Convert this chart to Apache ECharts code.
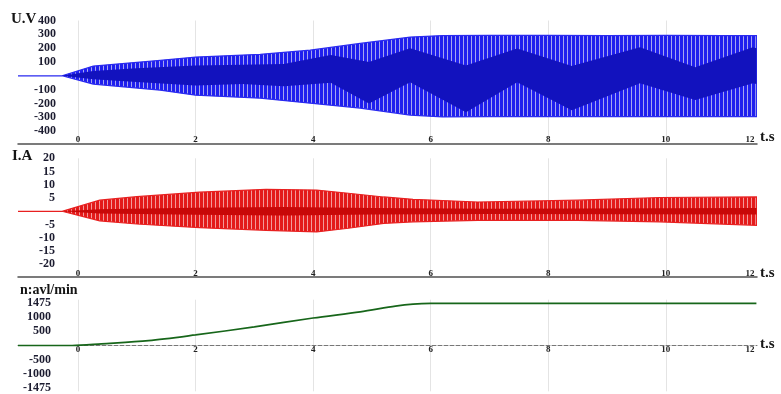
<!DOCTYPE html>
<html><head><meta charset="utf-8">
<script src="https://cdn.jsdelivr.net/npm/echarts@6/dist/echarts.min.js"></script>
<style>html,body{margin:0;padding:0;background:#fff}#c{width:781px;height:394px}</style>
</head><body><div id="c"></div>
<script>
// ---- tick labels ----
const xTickPos = [0, 2, 4, 6, 8, 10, 11.43];
const xTickLabels = ['0', '2', '4', '6', '8', '10', '12'];
const uTicks = [400, 300, 200, 100, -100, -200, -300, -400];
const iTicks = [20, 15, 10, 5, -5, -10, -15, -20];
const nTicks = [1475, 1000, 500, -500, -1000, -1475];

// ---- voltage U (V): outer envelope ----
const tEnvU = [-1.02, -0.27, 0.26, 1.4, 2.0, 3.1, 3.95, 4.8, 5.65, 6.2, 7.0, 8.0, 9.0, 10.0, 11.0, 11.54];
const upU   = [0, 0, 70, 112, 135, 155, 185, 234, 280, 291, 292, 292, 291, 292, 291, 290];
const lowU  = [0, 0, -60, -104, -140, -162, -198, -234, -284, -298, -296, -296, -295, -296, -296, -295];
// voltage dark core
const tCoreU = [-0.27, 0.26, 1.0, 2.0, 2.8, 3.5, 4.3, 4.95, 5.65, 6.6, 7.47, 8.4, 9.56, 10.5, 11.48, 11.54];
const coreUpU  = [0, 35, 55, 75, 80, 85, 150, 100, 200, 75, 198, 70, 206, 61, 206, 200];
const coreLowU = [0, -25, -45, -70, -60, -75, -50, -200, -47, -263, -47, -250, -54, -176, -54, -60];

// ---- current I (A): envelope ----
const tEnvI = [-1.02, -0.27, 0.37, 1.0, 2.07, 3.2, 4.06, 4.6, 5.2, 5.7, 6.8, 8.5, 9.9, 11.54];
const upI   = [0, 0, 4.2, 5.5, 7.2, 8.3, 8.0, 6.8, 5.4, 4.5, 3.5, 4.2, 5.2, 5.4];
const lowI  = [0, 0, -3.6, -4.8, -6.2, -7.2, -7.8, -6.4, -4.6, -4.0, -3.4, -3.4, -4.0, -5.3];
const tCoreI = [-0.27, 0.37, 2.0, 3.5, 5.0, 7.0, 11.54];
const coreUpI  = [0, 0.8, 1.3, 1.6, 1.2, 1.0, 1.2];
const coreLowI = [0, -0.8, -1.3, -1.6, -1.2, -1.0, -1.2];

// ---- speed n (rev/min) ----
const tN = [-1.02, -0.1, 0.4, 1.2, 2.0, 3.0, 4.0, 4.8, 5.4, 5.7, 6.0, 7.0, 9.0, 11.54];
const nV = [0, 0, 60, 170, 370, 650, 960, 1175, 1375, 1445, 1470, 1472, 1470, 1472];

function stripes(main, light, w, lw) {
  const c = document.createElement('canvas');
  c.width = w; c.height = 4;
  const g = c.getContext('2d');
  g.fillStyle = main; g.fillRect(0, 0, w, 4);
  g.fillStyle = light; g.fillRect(w - lw, 0, lw, 4);
  return { image: c, repeat: 'repeat' };
}

// band between lower and upper envelope, drawn through the axis scales (api.coord)
function band(k, ts, lo, hi, fill, stroke, lineW, z) {
  return {
    type: 'custom', xAxisIndex: k, yAxisIndex: k, silent: true, z: z, clip: true,
    data: ts.map((t, i) => [t, hi[i], lo[i]]),
    encode: { x: 0, y: [1, 2] },
    renderItem: function (params, api) {
      if (params.dataIndex !== 0) return null;
      const top = ts.map((t, i) => api.coord([t, hi[i]]));
      const bot = ts.map((t, i) => api.coord([t, lo[i]])).reverse();
      return {
        type: 'polygon', shape: { points: top.concat(bot) },
        style: { fill: fill, stroke: lineW ? stroke : null, lineWidth: lineW }
      };
    }
  };
}

function gridLines(k) {
  return {
    type: 'line', xAxisIndex: k, yAxisIndex: k, data: [], z: 0, silent: true,
    markLine: {
      silent: true, symbol: 'none', label: { show: false }, z: 0,
      lineStyle: { color: '#e4e4e4', type: 'solid', width: 1 },
      data: xTickPos.slice(0, 6).map(v => ({ xAxis: v }))
    }
  };
}

const serif = '"Liberation Serif", "DejaVu Serif", serif';
const grids = [
  { left: 18, width: 739, top: 20.5, height: 123 },
  { left: 18, width: 739, top: 158.3, height: 118.4 },
  { left: 18, width: 739, top: 299.7, height: 91.6 }
];
function xAx(k, third) {
  return {
    type: 'value', gridIndex: k, min: -1.02, max: 11.55,
    offset: third ? -45.8 : 0,
    axisLine: third ? { show: true, onZero: false, lineStyle: { color: '#777', width: 1, type: 'dashed' } }
                    : { show: true, onZero: false, lineStyle: { color: '#505050', width: 1.5 } },
    axisTick: { show: false }, splitLine: { show: false },
    axisLabel: {
      customValues: xTickPos,
      formatter: v => { let bi = 0; xTickPos.forEach((p, i) => { if (Math.abs(p - v) < Math.abs(xTickPos[bi] - v)) bi = i; }); return xTickLabels[bi]; },
      inside: !third, margin: third ? 0 : -1, fontSize: 9, fontWeight: 'bold', fontFamily: serif, color: '#222'
    }
  };
}
function yAx(k, min, max, ticks, labelRight) {
  return {
    type: 'value', gridIndex: k, min: min, max: max, offset: -(labelRight - 18),
    axisLine: { show: false }, axisTick: { show: false }, splitLine: { show: false },
    axisLabel: { customValues: ticks, formatter: v => String(v), margin: 1, fontSize: 12, fontWeight: 'bold', fontFamily: serif, color: '#1c1c30' }
  };
}

const blueFill = stripes('#1f1fee', '#a6a6ee', 4, 1);
const redFill = stripes('#e31a1a', '#f29a9a', 4, 1);

const series = [
  gridLines(0), gridLines(1), gridLines(2),
  band(0, tEnvU, lowU, upU, blueFill, '#2a2af0', 1.2, 2),
  band(0, tCoreU, coreLowU, coreUpU, '#1212be', null, 0, 3),
  band(1, tEnvI, lowI, upI, redFill, '#e82020', 1.2, 2),
  band(1, tCoreI, coreLowI, coreUpI, '#c80808', null, 0, 3),
  {
    type: 'line', xAxisIndex: 2, yAxisIndex: 2, symbol: 'none', silent: true, z: 3,
    smooth: 0.3, lineStyle: { color: '#17661a', width: 1.7 },
    data: tN.map((t, i) => [t, nV[i]])
  }
];

function txt(x, y, s, size) {
  return { type: 'text', left: x, top: y, silent: true,
    style: { text: s, font: 'bold ' + size + 'px ' + serif, fill: '#151515' } };
}

const chart = echarts.init(document.getElementById('c'), null, { renderer: 'canvas' });
chart.setOption({
  animation: false,
  backgroundColor: '#fff',
  grid: grids,
  xAxis: [xAx(0, false), xAx(1, false), xAx(2, true)],
  yAxis: [yAx(0, -490, 400, uTicks, 57), yAx(1, -24.7, 20, iTicks, 56), yAx(2, -1600, 1600, nTicks, 52)],
  series: series,
  graphic: [
    txt(11, 12, 'U.V', 15),
    txt(12, 149, 'I.A', 15),
    txt(20, 283, 'n:avl/min', 14),
    txt(760, 130, 't.s', 15),
    txt(760, 266, 't.s', 15),
    txt(760, 337, 't.s', 15)
  ]
});
</script>
</body></html>
